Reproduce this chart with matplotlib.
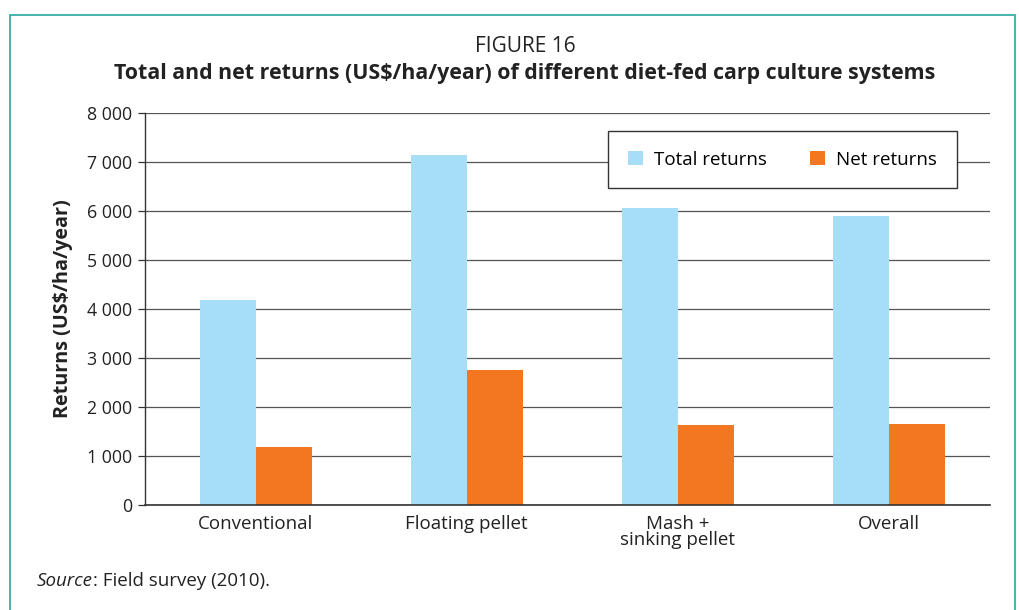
import matplotlib
matplotlib.use("Agg")
import matplotlib.pyplot as plt
from matplotlib.patches import Rectangle
from matplotlib.ticker import FuncFormatter
import numpy as np

plt.rcParams['font.family'] = ['Open Sans', 'DejaVu Sans']

systems = ["Conventional", "Floating pellet", "Mash +\nsinking pellet", "Overall"]
total_returns = [4180, 7140, 6060, 5890]
net_returns = [1190, 2750, 1630, 1650]

blue = "#A6DEF7"
orange = "#F37621"

fig = plt.figure(figsize=(10.2, 6.1), dpi=100)

# teal frame around the figure
fig.patches.append(Rectangle((10 / 1020, -0.05), 1005 / 1020, 1.05 - 15 / 610,
                             transform=fig.transFigure, fill=False,
                             edgecolor="#3AADA8", linewidth=1.3))

ax = fig.add_axes([145 / 1020, 1 - 505 / 610, 845 / 1020, 392 / 610])

x = np.arange(len(systems))
w = 0.265
ax.bar(x - w / 2, total_returns, w, color=blue, label="Total returns", zorder=2)
ax.bar(x + w / 2, net_returns, w, color=orange, label="Net returns", zorder=2)

ax.set_xlim(-0.525, 3.48)
ax.set_ylim(0, 8000)
ax.set_yticks(range(0, 8001, 1000))
ax.yaxis.set_major_formatter(FuncFormatter(lambda v, p: f"{int(v):,}".replace(",", " ")))
ax.grid(axis="y", color="#555555", linewidth=0.9, zorder=0)
ax.set_axisbelow(True)

for s in ["top", "right"]:
    ax.spines[s].set_visible(False)
ax.spines["left"].set_color("#333333")
ax.spines["left"].set_linewidth(1.0)
ax.spines["bottom"].set_color("#333333")
ax.spines["bottom"].set_linewidth(1.2)

ax.set_xticks(x)
ax.set_xticklabels(systems, fontsize=13.5, color="#222222", linespacing=0.9)
ax.tick_params(axis="x", length=0, pad=7)
ax.tick_params(axis="y", length=5, width=0.9, color="#333333",
               labelsize=12.8, labelcolor="#222222", pad=4)

ax.set_ylabel("Returns (US$/ha/year)", fontsize=14.2, fontweight="bold",
              color="#222222", labelpad=10)

leg = ax.legend(loc="upper right", bbox_to_anchor=(957 / 845 - 145 / 845, 1 - 18 / 392),
                ncol=2, frameon=True, fancybox=False, fontsize=13.5,
                handlelength=0.8, handleheight=0.8, columnspacing=2.3,
                handletextpad=0.6, borderpad=1.05, borderaxespad=0)
leg.get_frame().set_edgecolor("#333333")
leg.get_frame().set_linewidth(1.0)
leg.get_frame().set_alpha(1)

cx = 525 / 1020
fig.text(cx, 1 - 46 / 610, "FIGURE 16", ha="center", va="center",
         fontsize=15, color="#222222")
fig.text(cx, 1 - 73 / 610,
         "Total and net returns (US$/ha/year) of different diet-fed carp culture systems",
         ha="center", va="center", fontsize=15.4, fontweight="bold", color="#222222")

src = fig.text(37 / 1020, 1 - 581 / 610, "Source", ha="left", va="center",
               fontsize=13.5, color="#222222", style="italic")
fig.canvas.draw()
bb = src.get_window_extent()
fig.text(bb.x1 / fig.bbox.width, 1 - 581 / 610, ": Field survey (2010).",
         ha="left", va="center", fontsize=13.5, color="#222222")

fig.savefig("out.png", dpi=100)
